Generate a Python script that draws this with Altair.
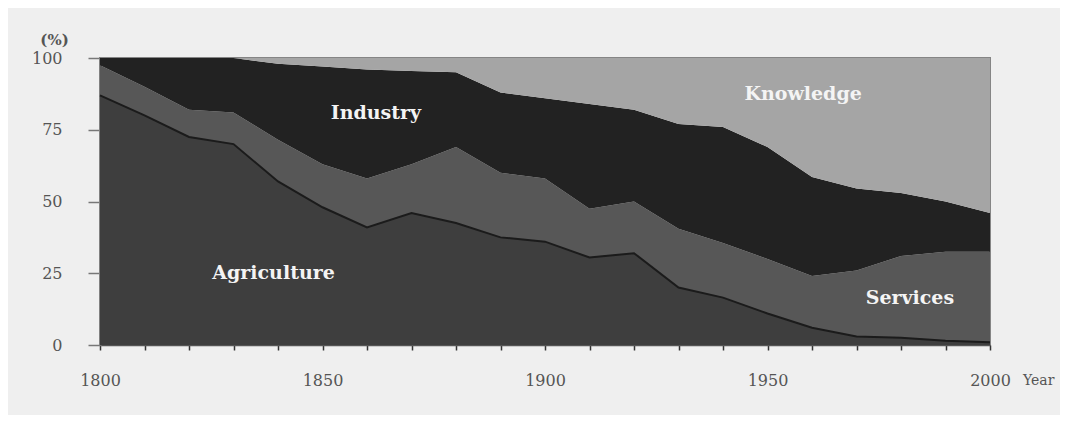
import altair as alt
import pandas as pd

years = list(range(1800, 2001, 10))
agriculture = [87, 80, 72.5, 70, 57, 48, 41, 46, 42.5, 37.5, 36, 30.5, 32, 20, 16.5, 11, 6, 3, 2.5, 1.5, 1]
services = [10.5, 10, 9.5, 11, 14.5, 15, 17, 17, 26.5, 22.5, 22, 17, 18, 20.5, 19, 19, 18, 23, 28.5, 31, 31.5]
industry = [2.5, 10, 18, 19, 26.5, 34, 38, 32.5, 26, 28, 28, 36.5, 32, 36.5, 40.5, 39, 34.5, 28.5, 22, 17.5, 13.5]
knowledge = [0, 0, 0, 0, 2, 3, 4, 4.5, 5, 12, 14, 16, 18, 23, 24, 31, 41.5, 45.5, 47, 50, 54]

sectors = ["Agriculture", "Services", "Industry", "Knowledge"]
colors = ["#3e3e3e", "#575757", "#222222", "#a5a5a5"]

label_text = ["Industry", "Knowledge", "Agriculture", "Services"]
label_year = [1862, 1958, 1839, 1982]
label_value = [81, 87.5, 25, 16.5]

series = {"Agriculture": agriculture, "Services": services, "Industry": industry, "Knowledge": knowledge}
rows = []
for s_i, s in enumerate(sectors):
    for y, v in zip(years, series[s]):
        rows.append({"year": y, "sector": s, "share": v, "order": s_i})
df = pd.DataFrame(rows)

df_agri = pd.DataFrame({"year": years, "share": agriculture})
df_labels = pd.DataFrame({"text": label_text, "year": label_year, "share": label_value})
df_year = pd.DataFrame({"text": ["Year"], "year": [2000], "share": [0]})

xscale = alt.Scale(domain=[1800, 2000], nice=False, zero=False)
yscale = alt.Scale(domain=[0, 100], nice=False)

areas = alt.Chart(df).mark_area(interpolate="linear").encode(
    x=alt.X("year:Q", scale=xscale,
            axis=alt.Axis(values=years, labelExpr="datum.value % 50 == 0 ? datum.label : ''",
                          format="d", title=None, grid=False, tickSize=5, tickColor="#333",
                          tickWidth=1.5, domainColor="#555", domainWidth=1.5,
                          labelPadding=22, labelFont="DejaVu Serif", labelFontSize=16,
                          labelColor="#555", labelFlush=False)),
    y=alt.Y("share:Q", stack="zero", scale=yscale,
            axis=alt.Axis(values=[0, 25, 50, 75, 100], title="(%)", titleAngle=0,
                          titleX=-46, titleY=-19, titleAlign="center", titleBaseline="middle",
                          titleFont="DejaVu Serif", titleFontSize=15, titleFontWeight="bold",
                          titleColor="#555", grid=False, tickSize=12, tickColor="#777",
                          tickWidth=1.5, domainColor="#808080", domainWidth=3,
                          labelPadding=26, labelFont="DejaVu Serif", labelFontSize=16,
                          labelColor="#555")),
    color=alt.Color("sector:N", scale=alt.Scale(domain=sectors, range=colors), legend=None),
    order=alt.Order("order:Q"),
)

agri_line = alt.Chart(df_agri).mark_line(interpolate="linear", color="#1b1b1b", strokeWidth=2).encode(
    x=alt.X("year:Q", scale=xscale),
    y=alt.Y("share:Q", scale=yscale),
)

labels = alt.Chart(df_labels).mark_text(
    font="DejaVu Serif", fontSize=19, fontWeight="bold", color="#f4f4f4",
    align="center", baseline="middle"
).encode(
    x=alt.X("year:Q", scale=xscale),
    y=alt.Y("share:Q", scale=yscale),
    text="text:N",
)

year_label = alt.Chart(df_year).mark_text(
    font="DejaVu Serif", fontSize=14, color="#555", align="left", baseline="middle",
    dx=33, dy=36
).encode(
    x=alt.X("year:Q", scale=xscale),
    y=alt.Y("share:Q", scale=yscale),
    text="text:N",
)

chart = alt.layer(areas, agri_line, labels, year_label).properties(
    width=890, height=287,
    autosize=alt.AutoSizeParams(type="none"),
    padding={"left": 92, "top": 50, "right": 70, "bottom": 70},
    background="#efefef",
).configure_view(stroke="#858585", strokeWidth=2)

chart.save("out.html", embed_options={"renderer": "svg", "actions": False})
